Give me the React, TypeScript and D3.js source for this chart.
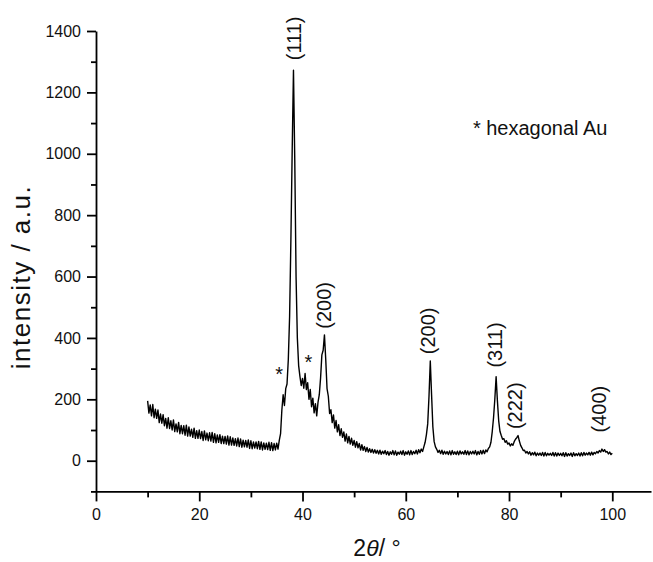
import React, { useEffect, useRef } from "react";
import * as d3 from "d3";

// XRD scan, constant step of 0.25 deg starting at 10 deg
const startAngle = 10;
const angleStep = 0.25;
const intensity = [
  195, 155, 182, 146, // 10
  183, 140, 168, 138,
  165, 124, 152, 122,
  150, 114, 138, 106,
  140, 105, 130, 100,
  133, 95, 120, 94, // 15
  125, 88, 115, 88,
  114, 83, 116, 80,
  110, 80, 103, 76,
  106, 73, 98, 73,
  100, 72, 95, 66, // 20
  97, 68, 90, 65,
  91, 64, 92, 60,
  88, 58, 84, 60,
  85, 56, 80, 56,
  79, 54, 81, 51, // 25
  78, 51, 74, 50,
  72, 48, 74, 46,
  71, 44, 67, 45,
  66, 44, 68, 40,
  65, 39, 61, 41, // 30
  61, 39, 63, 37,
  61, 35, 58, 37,
  57, 36, 60, 34,
  59, 33, 56, 35,
  57, 38, 66, 88, // 35
  165, 215, 180, 235,
  250, 330, 470, 720,
  1010, 1272, 980, 600,
  400, 310, 275, 245,
  268, 236, 284, 232, // 40
  254, 200, 232, 176,
  204, 156, 186, 146,
  190, 215, 270, 345,
  360, 410, 330, 235,
  210, 154, 166, 124, // 45
  149, 106, 131, 94,
  117, 82, 104, 76,
  94, 64, 87, 58,
  79, 54, 73, 50,
  66, 44, 62, 42, // 50
  56, 35, 52, 34,
  46, 30, 43, 28,
  39, 27, 37, 25,
  36, 24, 34, 22,
  34, 21, 31, 23, // 55
  33, 20, 30, 18,
  29, 21, 33, 19,
  32, 18, 28, 21,
  31, 20, 33, 18,
  29, 21, 32, 19, // 60
  33, 20, 30, 23,
  34, 22, 36, 26,
  38, 30, 45, 60,
  85, 120, 210, 325,
  215, 110, 62, 45, // 65
  37, 27, 34, 23,
  34, 21, 31, 22,
  30, 20, 32, 19,
  33, 21, 29, 20,
  31, 19, 32, 22, // 70
  29, 21, 33, 20,
  32, 19, 30, 22,
  31, 22, 33, 19,
  30, 21, 33, 22,
  34, 23, 35, 29, // 75
  40, 45, 60, 95,
  140, 200, 274, 195,
  130, 95, 82, 70,
  72, 60, 65, 54,
  58, 48, 55, 50, // 80
  62, 70, 75, 82,
  64, 50, 42, 33,
  34, 25, 30, 22,
  29, 18, 26, 19,
  28, 16, 25, 18, // 85
  25, 17, 27, 15,
  27, 16, 24, 18,
  24, 17, 27, 15,
  26, 15, 25, 17,
  24, 16, 26, 14, // 90
  26, 15, 23, 17,
  25, 14, 26, 16,
  23, 17, 25, 15,
  26, 16, 27, 18,
  25, 19, 27, 18, // 95
  28, 19, 27, 23,
  30, 25, 33, 28,
  38, 30, 36, 28,
  30, 22, 28, 20,
  24, // 100
];

const xMajorTicks = [0, 20, 40, 60, 80, 100];
const xMinorTicks = [10, 30, 50, 70, 90];
const yMajorTicks = [0, 200, 400, 600, 800, 1000, 1200, 1400];
const yMinorTicks = [-100, 100, 300, 500, 700, 900, 1100, 1300];

// reflection labels: [2theta, intensity at label centre]
const peakLabels = ["(111)", "(200)", "(200)", "(311)", "(222)", "(400)"];
const peakLabelAngle = [38.74, 44.6, 64.6, 77.67, 81.54, 97.84];
const peakLabelLevel = [1376, 506, 423, 377, 179, 168];

// hexagonal Au reflections
const starAngle = [35.48, 41.12];
const starLevel = [296, 337];

const font = "'Liberation Sans', Arial, sans-serif";

const App = () => {
  const svgRef = useRef<SVGSVGElement>(null);

  useEffect(() => {
    const w = 653;
    const h = 562;
    const svg = d3.select(svgRef.current);
    svg.selectAll("*").remove();
    svg.attr("width", w).attr("height", h);

    const x = d3.scaleLinear().domain([0, 107.5]).range([96, 651]);
    const y = d3.scaleLinear().domain([-100, 1400]).range([491.4, 31]);

    const data = intensity.map((v, i) => [startAngle + i * angleStep, v]);

    // axes
    const xAxis = svg.append("g").attr("transform", `translate(0,${y(-100)})`);
    xAxis.call(
      d3.axisBottom(x).tickValues(xMajorTicks).tickSize(10).tickPadding(7).tickSizeOuter(0).tickFormat(d3.format("d"))
    );
    xAxis
      .append("g")
      .call(d3.axisBottom(x).tickValues(xMinorTicks).tickSize(6).tickFormat(() => "").tickSizeOuter(0))
      .select(".domain")
      .remove();

    const yAxis = svg.append("g").attr("transform", `translate(${x(0)},0)`);
    yAxis.call(
      d3.axisLeft(y).tickValues(yMajorTicks).tickSize(9).tickPadding(6).tickSizeOuter(0).tickFormat(d3.format("d"))
    );
    yAxis
      .append("g")
      .call(d3.axisLeft(y).tickValues(yMinorTicks).tickSize(5).tickFormat(() => "").tickSizeOuter(0))
      .select(".domain")
      .remove();

    svg.selectAll(".domain, .tick line").attr("stroke", "#000").attr("stroke-width", 1.8);
    svg
      .selectAll(".tick text")
      .attr("font-family", font)
      .attr("font-size", 16)
      .attr("fill", "#111");

    // pattern
    const line = d3
      .line()
      .x((d) => x(d[0]))
      .y((d) => y(d[1]));
    svg
      .append("path")
      .datum(data)
      .attr("d", line as any)
      .attr("fill", "none")
      .attr("stroke", "#000")
      .attr("stroke-width", 1.4)
      .attr("stroke-linejoin", "round");

    // reflection labels
    peakLabels.forEach((lab, i) => {
      svg
        .append("text")
        .attr(
          "transform",
          `translate(${x(peakLabelAngle[i]) + 5.2},${y(peakLabelLevel[i])}) rotate(-90)`
        )
        .attr("text-anchor", "middle")
        .attr("font-family", font)
        .attr("font-size", 20)
        .attr("fill", "#111")
        .text(lab);
    });

    starAngle.forEach((a, i) => {
      svg
        .append("text")
        .attr("x", x(a))
        .attr("y", y(starLevel[i]) + 11.5)
        .attr("text-anchor", "middle")
        .attr("font-family", font)
        .attr("font-size", 20)
        .attr("fill", "#111")
        .text("*");
    });

    svg
      .append("text")
      .attr("x", x(73))
      .attr("y", y(1061))
      .attr("font-family", font)
      .attr("font-size", 20)
      .attr("fill", "#111")
      .text("* hexagonal Au");

    // axis titles
    svg
      .append("text")
      .attr("transform", `translate(30,277) rotate(-90)`)
      .attr("text-anchor", "middle")
      .attr("font-family", font)
      .attr("font-size", 26)
      .attr("letter-spacing", 1.5)
      .attr("fill", "#111")
      .text("intensity / a.u.");

    const xt = svg
      .append("text")
      .attr("x", 377)
      .attr("y", 556)
      .attr("text-anchor", "middle")
      .attr("font-family", font)
      .attr("font-size", 23)
      .attr("fill", "#111");
    xt.append("tspan").text("2");
    xt.append("tspan").attr("font-style", "italic").text("θ");
    xt.append("tspan").text("/ °");
  }, []);

  return (
    <svg ref={svgRef} style={{ position: "absolute", left: 0, top: 0 }}></svg>
  );
};

export default App;
